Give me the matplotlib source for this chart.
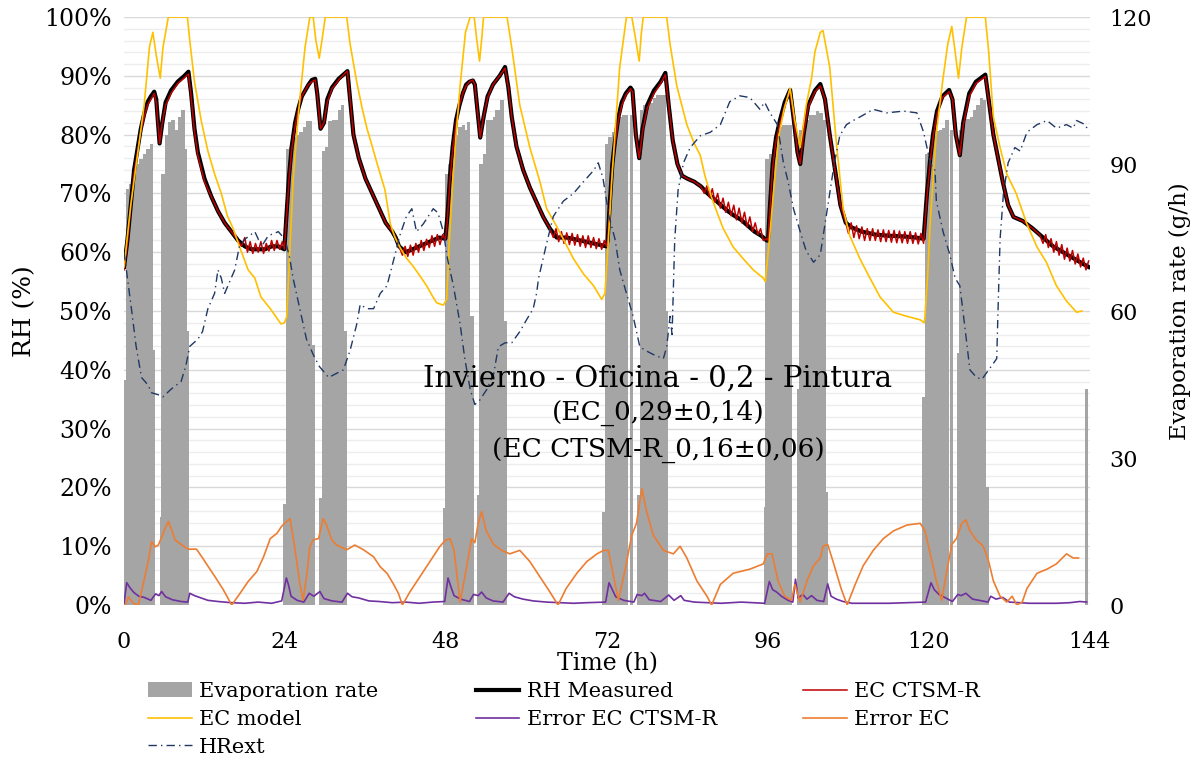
import numpy as np
import matplotlib
matplotlib.use("Agg")
import matplotlib.pyplot as plt

plt.rcParams['font.family'] = ['DejaVu Serif']

# ---------------- data (time in h, RH in %, evaporation in g/h) ----------------
rh_measured = [
    (0, 57.5), (0.5, 62), (1, 68), (1.5, 74), (2, 77.5), (2.5, 81), (3, 83.5), (3.5, 85.5), (4, 86.5), (4.5, 87.3),
    (4.8, 86), (5.3, 78.5), (5.7, 82), (6.2, 85.5), (7, 87.5), (8, 89), (9, 90), (9.6, 90.7), (10, 87), (10.5, 81),
    (11, 77), (12, 72.5), (13, 69.5), (14, 67), (15, 65), (16, 63.5), (17, 62), (18, 61), (19, 60.5), (20, 60.5),
    (21, 60.5), (22, 61), (23, 61), (23.9, 60.5),
    (24.2, 66), (24.6, 73), (25, 78), (25.5, 82), (26, 84.5), (26.5, 86.5), (27, 87.5), (27.5, 88.5), (28, 89.3),
    (28.5, 89.5), (28.8, 87), (29.3, 81), (29.8, 82), (30.3, 86), (31, 88), (32, 89.5), (33, 90.5), (33.3, 90.8),
    (33.7, 86), (34.2, 80), (35, 76), (36, 72.5), (37, 70), (38, 67.5), (39, 65), (40, 63.5), (40.5, 62.5), (41, 61),
    (42, 60), (43, 60.5), (44, 61), (45, 61.5), (46, 62), (47, 62.5), (47.9, 62.3),
    (48.2, 66), (48.6, 73), (49, 78), (49.5, 82.5), (50, 85), (50.5, 87), (51, 88.5), (51.5, 89), (52, 89.2),
    (52.3, 88.5), (52.7, 84), (53.1, 79.5), (53.6, 83), (54.2, 86.5), (55, 88.5), (56, 90), (56.8, 91.5), (57.3, 88),
    (57.8, 83), (58.5, 78), (59.5, 74), (60.5, 71), (61.5, 68.5), (62.5, 66), (63.5, 64), (64.5, 62.5), (66, 62.5),
    (68, 62), (70, 61.5), (71.9, 61),
    (72.1, 62), (72.4, 68), (72.8, 75), (73.2, 79), (73.7, 83), (74.2, 85.5), (74.8, 87), (75.5, 88), (75.8, 87.5),
    (76.3, 80), (76.8, 76), (77.3, 81), (78, 85), (79, 87.5), (80, 89), (80.7, 90.5), (81.2, 85), (81.8, 79),
    (82.5, 75), (83.2, 73), (84, 72.5), (85, 72), (86, 71.2), (87, 70), (88, 69), (89, 68), (90, 67), (91, 66.2),
    (92, 65.5), (93, 64.5), (94, 63.5), (95, 62.8), (95.8, 62),
    (96, 62), (96.3, 68), (96.7, 75), (97.2, 79.5), (97.8, 82.5), (98.5, 85.5), (99.3, 87.6), (99.8, 83), (100.4, 77),
    (100.8, 75), (101.3, 80), (102, 85), (103, 87.5), (103.8, 88.6), (104.5, 86), (105.2, 80), (106, 74), (106.8, 68),
    (107.6, 65), (108.5, 64.2), (110, 63.5), (112, 63), (114, 62.8), (116, 62.7), (118, 62.5), (119.2, 62.3),
    (119.7, 70), (120.2, 76), (120.6, 80), (121.2, 84), (122, 86.5), (123, 87.6), (123.5, 86), (124, 80), (124.6, 76.5),
    (125.1, 82), (126, 87), (127, 89), (128.4, 90.2), (128.9, 86), (129.6, 80), (130.3, 76), (131, 72), (131.8, 68),
    (132.6, 66), (134, 65.3), (135.5, 64), (137, 62.5), (138.5, 61), (140, 60), (141.5, 59), (143, 58), (143.8, 57.5),
]

ec_ctsm = [
    (0, 57), (0.5, 61.5), (1, 67.5), (1.5, 73.5), (2, 77), (2.5, 80.5), (3, 83), (3.5, 85), (4, 86), (4.5, 87),
    (4.8, 85.5), (5.3, 78.5), (5.7, 82), (6.2, 85), (7, 87), (8, 88.7), (9, 89.7), (9.6, 90.3), (10, 86.5), (10.5, 80.5),
    (11, 76.5), (12, 72), (13, 69.5), (14, 67), (15, 65), (16, 63.5), (17, 62), (17.5, 61), (18, 62.5), (18.4, 60),
    (18.8, 61.8), (19.2, 59.8), (19.6, 61.5), (20, 60), (20.4, 61.8), (20.8, 59.8), (21.2, 61.5), (21.6, 60.2),
    (22, 62), (22.4, 60.3), (22.8, 62), (23.2, 60.5), (23.6, 61.8), (23.9, 60.5),
    (24.2, 65.5), (24.6, 72.5), (25, 77.5), (25.5, 81.5), (26, 84.5), (26.5, 86.5), (27, 87.5), (27.5, 88.5), (28, 89),
    (28.5, 89.3), (28.8, 87), (29.3, 81), (29.8, 82), (30.3, 85.5), (31, 87.8), (32, 89.3), (33, 90.5), (33.3, 90.8),
    (33.7, 86), (34.2, 80), (35, 76), (36, 72.5), (37, 70), (38, 67.5), (39, 65), (40, 63.5), (40.5, 62.5), (41, 61),
    (41.5, 59.5), (41.9, 61), (42.3, 59.3), (42.7, 61.2), (43.1, 59.5), (43.5, 61.5), (43.9, 60), (44.3, 62),
    (44.7, 60.3), (45.1, 62.2), (45.5, 60.8), (45.9, 62.8), (46.3, 61), (46.7, 63), (47.1, 61.3), (47.5, 63), (47.9, 62),
    (48.2, 65.5), (48.6, 72.5), (49, 77.5), (49.5, 82), (50, 85), (50.5, 87), (51, 88.3), (51.5, 89), (52, 89.3),
    (52.3, 88.5), (52.7, 84), (53.1, 79.5), (53.6, 83), (54.2, 86.3), (55, 88.5), (56, 90), (56.8, 91.3), (57.3, 88),
    (57.8, 83), (58.5, 78), (59.5, 74), (60.5, 71), (61.5, 68.5), (62.5, 66), (63.5, 64), (64, 62.5), (64.4, 64),
    (64.8, 61.8), (65.2, 63.5), (65.6, 61.5), (66, 63.3), (66.4, 61.3), (66.8, 63.2), (67.2, 61.2), (67.6, 63),
    (68, 61), (68.4, 62.8), (68.8, 60.8), (69.2, 62.8), (69.6, 60.8), (70, 62.5), (70.4, 60.6), (70.8, 62.3),
    (71.2, 60.5), (71.6, 62), (71.9, 61),
    (72.1, 62), (72.4, 67.5), (72.8, 74.5), (73.2, 78.5), (73.7, 82.5), (74.2, 85), (74.8, 86.7), (75.5, 87.8),
    (75.8, 87.3), (76.3, 80), (76.8, 76), (77.3, 80.5), (78, 84.5), (79, 87), (80, 88.7), (80.7, 90.2), (81.2, 85),
    (81.8, 79), (82.5, 75), (83.2, 73), (84, 72.5), (85, 72), (86, 71.2), (86.5, 70), (86.9, 71.3), (87.3, 69.3),
    (87.7, 70.8), (88.1, 68.5), (88.5, 70), (88.9, 67.5), (89.3, 69.2), (89.7, 66.8), (90.1, 68.5), (90.5, 66.2),
    (90.9, 68), (91.3, 65.5), (91.7, 67.5), (92.1, 65), (92.5, 66.8), (92.9, 64.3), (93.3, 66), (93.7, 63.5),
    (94.1, 65), (94.5, 63), (94.9, 64), (95.3, 62), (95.8, 62.3),
    (96, 62), (96.3, 67.5), (96.7, 74.5), (97.2, 79), (97.8, 82), (98.5, 85), (99.3, 87.3), (99.8, 83), (100.4, 77),
    (100.8, 75), (101.3, 80), (102, 84.7), (103, 87.3), (103.8, 88.3), (104.5, 86), (105.2, 80), (106, 74),
    (106.8, 68), (107.6, 65), (108, 63.2), (108.4, 65), (108.8, 62.5), (109.2, 64.5), (109.6, 62.3), (110, 64.3),
    (110.4, 62), (110.8, 64), (111.2, 62), (111.6, 64), (112, 62), (112.4, 63.8), (112.8, 61.8), (113.2, 63.8),
    (113.6, 61.8), (114, 63.7), (114.4, 61.7), (114.8, 63.7), (115.2, 61.6), (115.6, 63.6), (116, 61.6),
    (116.4, 63.5), (116.8, 61.5), (117.2, 63.5), (117.6, 61.5), (118, 63.3), (118.4, 61.4), (118.8, 63.2),
    (119.2, 61.5),
    (119.7, 69.5), (120.2, 75.5), (120.6, 79.5), (121.2, 83.5), (122, 86.3), (123, 87.3), (123.5, 86), (124, 80),
    (124.6, 76.5), (125.1, 81.5), (126, 86.5), (127, 88.7), (128.4, 89.9), (128.9, 86), (129.6, 80), (130.3, 76),
    (131, 72), (131.8, 68), (132.6, 66), (134, 65.3), (135.5, 64), (136.5, 63), (137, 61.5), (137.4, 63), (137.8, 60.8),
    (138.2, 62.3), (138.6, 60), (139, 61.8), (139.4, 59.5), (139.8, 61.3), (140.2, 58.8), (140.6, 60.7), (141, 58.5),
    (141.4, 60.3), (141.8, 58), (142.2, 59.7), (142.6, 57.5), (143, 59), (143.4, 57), (143.8, 58.5),
]

ec_model = [
    (0, 57.5), (1, 68), (2, 76.5), (3, 85), (3.8, 95), (4.3, 97.4), (4.8, 93.5), (5.4, 89.6), (5.8, 94.8), (6.6, 100),
    (9.45, 100), (9.8, 96), (10.5, 89), (11.5, 82.4), (12.5, 77.2), (13.5, 73.3), (14.5, 70), (15.4, 66.2),
    (16.2, 64.2), (17.2, 61), (18.5, 57), (19.5, 55.6), (20.4, 52.4), (21.8, 50.4), (23.4, 47.8), (23.9, 48),
    (24.25, 49), (24.7, 60), (25.2, 72), (25.8, 81), (26.4, 88.3), (27, 95), (27.7, 100), (28.2, 100), (28.6, 96),
    (29.1, 93), (29.5, 96), (30, 100), (33.2, 100), (33.7, 95.4), (34.7, 88.9), (35.5, 84.5), (36.2, 81.1), (37, 78),
    (37.7, 75.2), (38.9, 70.6), (39.7, 64.8), (40.4, 62.5), (41.1, 60.9), (42.1, 59), (43.1, 57.6), (44.1, 56),
    (45.1, 54.3), (46, 52.5), (46.6, 51.4), (47.6, 51),
    (48.1, 52), (48.5, 62), (49, 72), (49.5, 80), (50.1, 88.3), (50.9, 97.4), (51.6, 100), (52.2, 100), (52.6, 96),
    (53, 92.5), (53.3, 96), (53.6, 100), (57.1, 100), (57.8, 94.8), (59, 85), (60.5, 77.8), (62, 72), (63, 67.4),
    (64.3, 64.8), (65.5, 62.2), (67, 58.9), (68.5, 56.3), (70, 54.3), (71.2, 52),
    (71.7, 53), (72.2, 62), (72.7, 72), (73.3, 82), (73.9, 91.5), (74.9, 100), (75.7, 100), (76.2, 96.7),
    (76.8, 92.5), (77.1, 97), (77.4, 100), (80.9, 100), (81.4, 95.4), (82.4, 88.3), (83.9, 81.7), (85, 78.5),
    (85.9, 76.5), (86.6, 73), (87.4, 70), (88, 68), (89.3, 64.1), (90.8, 60.9), (92.3, 58.9), (93.8, 57), (95.3, 55.6),
    (95.6, 55), (96.2, 62), (96.8, 70), (97.6, 79.8), (98.4, 84.3), (99.3, 87.9), (100, 82.4), (100.8, 77.8),
    (101.7, 85), (102.5, 89.6), (103, 94.1), (103.8, 97.4), (104.2, 97.7), (105.2, 91.5), (106.2, 78.5),
    (107.2, 67.4), (108.2, 62.8), (109.7, 58.9), (111.2, 55.6), (112.7, 52.4), (114.7, 49.8), (116.7, 49.1),
    (118.7, 48.5), (119.3, 48),
    (119.4, 49), (119.8, 56), (120.2, 65.4), (121.1, 80.4), (122.1, 89.6), (122.8, 95.4), (123.4, 98.4),
    (123.9, 94.1), (124.4, 89.6), (124.9, 94.8), (125.6, 100), (128.4, 100), (128.9, 94.1), (129.6, 83),
    (130.6, 77.8), (131.6, 73.3), (133, 70), (134.6, 64.8), (136.1, 60.9), (137.5, 58.3), (139, 54.3), (140.5, 51.7),
    (142, 49.8), (142.8, 50),
]

error_ec_ctsm = [
    (0, 0.3), (0.4, 3.8), (0.9, 2.9), (1.5, 2.1), (2.2, 1.5), (3, 1.3), (4, 0.8), (4.7, 1.9), (5.2, 1.6), (5.6, 2.3),
    (6.2, 1.4), (7.2, 0.9), (8.5, 0.6), (9.5, 0.5), (9.8, 2.0), (10.5, 1.6), (11.5, 1.2), (12.5, 0.8), (14, 0.6),
    (16, 0.4), (18, 0.3), (20, 0.5), (22, 0.3), (23.5, 0.7),
    (24.2, 4.6), (24.5, 3.5), (24.9, 1.5), (25.8, 0.8), (26.8, 0.5), (27.6, 2.0), (28.3, 1.5), (29.2, 2.3),
    (29.8, 1.1), (31, 0.7), (32.5, 0.5), (33.3, 2.0), (34, 1.4), (35, 1.2), (36.5, 0.7), (38, 0.6), (40, 0.4),
    (42, 0.5), (44, 0.3), (46, 0.5), (47.8, 0.6),
    (48.3, 4.6), (48.7, 3.2), (49.2, 1.6), (50.2, 1.0), (51.5, 0.6), (52.1, 1.8), (52.8, 1.6), (53.3, 2.2), (54, 1.2),
    (55, 0.7), (56.5, 0.5), (57.4, 2.0), (58.2, 1.4), (59.5, 1.0), (61, 0.7), (63, 0.5), (65, 0.4), (67, 0.3),
    (69, 0.4), (71.8, 0.5),
    (72.3, 3.8), (72.8, 2.6), (73.3, 1.4), (74.5, 0.8), (76, 0.5), (76.5, 1.8), (77.2, 1.6), (77.6, 2.0), (78.3, 0.9),
    (80, 0.6), (81.2, 1.7), (82, 0.8), (83, 1.6), (83.5, 0.8), (85, 0.5), (87, 0.4), (89, 0.3), (92, 0.5),
    (95.5, 0.3),
    (96.2, 4.0), (96.7, 2.6), (97.3, 2.2), (98, 1.5), (99, 0.8), (99.7, 0.5), (100.1, 4.4), (100.5, 1.2),
    (101.2, 1.8), (101.8, 1.0), (102.5, 1.6), (103.3, 0.8), (104.3, 0.6), (104.9, 3.6), (105.4, 1.5), (106.2, 1.0),
    (107.2, 0.6), (108.5, 0.3), (111, 0.3), (114, 0.3), (117, 0.4), (119.5, 0.5),
    (120.3, 3.8), (120.8, 2.6), (121.5, 1.8), (122.5, 1.2), (123.5, 0.6), (124.3, 1.8), (124.8, 1.6), (125.5, 2.0),
    (126.5, 1.0), (127.5, 0.8), (128.8, 0.5), (129.2, 1.5), (130, 1.0), (131, 1.3), (132, 0.5), (133.5, 0.4),
    (135, 0.3), (137, 0.3), (139, 0.3), (141, 0.4), (142.5, 0.6), (143.5, 0.5),
]

error_ec = [
    (0.2, 0), (0.64, 1.4), (1.39, 0.3), (2.14, 0), (2.88, 3.7), (3.63, 7.6), (4.12, 10.8), (4.62, 9.9), (5.12, 10.2),
    (5.62, 11.6), (6.11, 13), (6.61, 14.2), (7.1, 12.8), (7.6, 11.1), (8.6, 10.2), (9.59, 9.5), (10.8, 9.5),
    (11.6, 8.2), (12.57, 6.5), (13.57, 4.8), (14.8, 2.6), (16.05, 0), (17.3, 2), (18.5, 4), (19.8, 5.7), (20.8, 8.2),
    (21.8, 11.3), (22.8, 12.2), (23.5, 13.4), (24.25, 14.2), (24.75, 14.7), (25.5, 9.4), (26.2, 3.7), (26.7, 0.8),
    (27.2, 4.8), (27.7, 9.9), (28.2, 11.1), (29, 11.3), (29.7, 14.7), (30.2, 13.6), (30.96, 11.1), (31.7, 10.2),
    (33.2, 9.4), (34.4, 10.2), (35.7, 9.4), (37.2, 8.2), (38.2, 6.5), (39.2, 5.4), (40.1, 3.7), (40.9, 2),
    (41.5, 0), (42.6, 2.2), (44.1, 4.8), (45.6, 7.4), (47.1, 10), (47.9, 11), (48.6, 11.3),
    (49.2, 9.3), (50.1, 0.5), (51, 6), (51.8, 11.3), (52.3, 10.6), (52.8, 13.9), (53.3, 15.9), (54, 12.6),
    (55.1, 10.3), (56.3, 9.3), (57.5, 8.7), (59, 9.3), (60.5, 7.4), (62, 4.8), (63.5, 2.2), (64.7, 0), (65.9, 2.8),
    (67.5, 5.4), (69, 7.4), (70.5, 8.7), (71.5, 9.3), (72.2, 9.3), (73, 4.8), (73.7, 0.8), (74.7, 6), (75.7, 11.9),
    (76.4, 13.9), (77.2, 19.8), (77.9, 15.9), (78.9, 11.9), (80.4, 9.3), (81.9, 8.7), (82.9, 10), (83.9, 8),
    (85.4, 4.1), (86.9, 1.5), (87.6, 0), (88.9, 3.5), (90.8, 5.4), (93.3, 6.1), (95.3, 7), (95.9, 8.7),
    (96.6, 8.7), (97.5, 4.1), (98.5, 1.5), (99.5, 0.8), (100, 3.5), (100.8, 0.5), (101.8, 4.1), (102.8, 6.7),
    (103.8, 8), (104.2, 10), (104.9, 10.3), (105.7, 7.4), (106.9, 2.8), (107.8, 0), (109, 3.5), (110.2, 6.7),
    (111.7, 9.3), (113.2, 11.3), (114.7, 12.6), (116.7, 13.6), (118.7, 13.9), (119.4, 12.6), (120.2, 8.7),
    (121.1, 4.1), (121.9, 0.8), (122.6, 5.4), (123.4, 10.3), (124.1, 11.3), (124.9, 13.9), (125.5, 14.5),
    (126.1, 12.6), (127.1, 11), (128.1, 10), (128.9, 7.4), (129.6, 4.1), (130.6, 1.5), (131.6, 0.5), (132.4, 1.5),
    (133.1, 0), (133.9, 0.5), (134.6, 2.8), (136.1, 5.4), (137.6, 6.1), (139, 7), (140.5, 8.7), (141.5, 8),
    (142.3, 8),
]

hr_ext = [
    (0, 60), (0.5, 55.6), (1.1, 50.4), (1.8, 44), (2.6, 38.7), (3.6, 37.4), (4.1, 36.1), (5, 35.8), (5.8, 35.4),
    (7, 36.7), (8.5, 38), (9.2, 40.6), (9.8, 44), (11, 45.2), (11.7, 46.5), (12.5, 50.4), (13.5, 53), (14, 57),
    (14.5, 55.6), (15, 53), (16.5, 57), (17.2, 61), (18, 62.2), (19.5, 63.5), (20.5, 61), (21.5, 62.8), (23, 63.5),
    (24, 62.2), (24.7, 59),
    (25.2, 55.6), (26.2, 50.4), (27.2, 45.2), (28.2, 42.6), (29.1, 40.6), (30.5, 38.7), (31.5, 39.3), (32.7, 40),
    (33.7, 43.3), (34.7, 47.8), (35.2, 51.1), (36.2, 50.4), (37.2, 50.4), (38.2, 53), (39.2, 54.3), (40.4, 59.6),
    (41.1, 62.8), (42.1, 66.1), (42.9, 67.4), (43.6, 63.5), (44.6, 64.8), (46.1, 67.4), (46.8, 66.7), (47.6, 63.5),
    (48.2, 59),
    (49.1, 54.3), (50.1, 47.8), (50.8, 41.9), (51.6, 36.7), (52.3, 34.1), (53, 34.8), (54.1, 36.7), (55.1, 39.3),
    (55.8, 43.9), (56.8, 44.6), (57.8, 44.6), (59, 46.5), (60, 48.5), (61, 50.4), (61.5, 53), (61.8, 55.6),
    (63, 61.5), (64, 66.1), (65.5, 68.7), (67, 70), (68.5, 72), (70, 73.9), (70.7, 75.2), (71.4, 72.6),
    (72.3, 66.1), (73.2, 62.2),
    (73.9, 57), (74.9, 53), (75.9, 49.1), (76.9, 43.9), (77.9, 43.2), (78.9, 42.6), (80.4, 41.9), (80.9, 43.9),
    (81.4, 49.1), (81.7, 46), (82.1, 62.2), (82.6, 70.6), (83.4, 75.2), (84.4, 77.8), (85.9, 79.8), (87.4, 80.4),
    (88.9, 81.7), (90.3, 85.6), (91.8, 86.6), (93.3, 86.3), (94.8, 84.3), (95.5, 85.5), (96.3, 83.7),
    (97.4, 81.7), (98.3, 75.2), (99, 72), (99.8, 67.4), (100.8, 63.5), (101.7, 60.2), (102.8, 58.3), (103.8, 59.6),
    (104.5, 64.8), (105.2, 70), (105.9, 75.2), (106.7, 79.8), (107.7, 81.7), (108.7, 82.4), (109.7, 83),
    (111.7, 84.3), (113.7, 83.7), (116.2, 84), (118.2, 83.7), (119.2, 80.4), (120.2, 75.2),
    (120.9, 73.9), (121.1, 68.7), (122.1, 63.5), (123.1, 59.6), (123.9, 55.6), (124.6, 54.3), (125.3, 47.8),
    (126.1, 40), (127.1, 38.7), (127.9, 38.4), (128.9, 40), (130.1, 41.9), (130.3, 50.4), (130.6, 62.2), (131.1, 70),
    (131.8, 75.2), (132.8, 77.8), (133.6, 77.2), (134.6, 80.4), (136.1, 81.7), (137.6, 82.4), (139, 81.1),
    (140.5, 81.7), (141.5, 81.1), (142, 82.4), (143.3, 81.7), (143.8, 80.5),
]

# evaporation rate bars: (start time, g/h), each bar half an hour wide
evaporation = [
    (-0.2, 46), (0.3, 85), (0.8, 86), (1.3, 88), (1.8, 90), (2.3, 91), (2.8, 92), (3.3, 93), (3.8, 94), (4.15, 52),
    (5.3, 18), (5.55, 88), (6.05, 96), (6.55, 98.5), (7.05, 99), (7.55, 97), (8.05, 99.5), (8.55, 101), (8.95, 93),
    (9.25, 56),
    (23.65, 20.6), (24.15, 93), (24.65, 93.5), (25.15, 95.5), (25.65, 96), (26.15, 96.5), (26.65, 97.5),
    (27.15, 98.8), (27.45, 98.8), (27.95, 53),
    (29.1, 21.8), (29.45, 92.6), (29.95, 93.5), (30.45, 98.8), (30.95, 99), (31.45, 99), (31.95, 101), (32.35, 102),
    (32.75, 56),
    (47.55, 19.8), (47.85, 88), (48.35, 90), (48.85, 92), (49.35, 96), (49.85, 97.5), (50.35, 98), (50.85, 97),
    (51.15, 98.5), (51.65, 59),
    (52.6, 22.5), (52.95, 90), (53.45, 92), (53.95, 99), (54.45, 99), (54.95, 99.5), (55.3, 101), (55.8, 101),
    (56.1, 103), (56.55, 58),
    (71.3, 19), (71.7, 94), (72.2, 95.5), (72.7, 96.5), (73.2, 98), (73.7, 99.5), (74.2, 100), (74.7, 100),
    (75.4, 100),
    (76.5, 22.5), (76.85, 101), (77.35, 102), (77.85, 102), (78.35, 102.5), (78.85, 103.5), (79.35, 104),
    (79.85, 104), (80.35, 104), (80.55, 60),
    (95.4, 20), (95.6, 91), (96.1, 92), (96.6, 93), (97.1, 96), (97.6, 97.5), (98.1, 98), (98.6, 98), (99.1, 98),
    (100.3, 44), (100.65, 97), (101.15, 98), (101.65, 99), (102.15, 100), (102.65, 100), (103.15, 100.8),
    (103.65, 100.5), (104.15, 99), (104.5, 23),
    (119.0, 42.5), (119.45, 92), (119.95, 93.5), (120.45, 96.5), (120.95, 96.8), (121.45, 97), (121.95, 97.3),
    (122.45, 99), (123.1, 97),
    (124.2, 51.5), (124.55, 97), (125.05, 98.5), (125.55, 99.2), (126.05, 99.5), (126.55, 101), (127.05, 102),
    (127.55, 103.5), (128.05, 103), (128.45, 24),
    (143.2, 44),
]

title_lines = ["Invierno - Oficina - 0,2 - Pintura", "(EC_0,29±0,14)", "(EC CTSM-R_0,16±0,06)"]


def split(pairs):
    a = np.array(pairs, dtype=float)
    return a[:, 0], a[:, 1]


fig = plt.figure(figsize=(11.95, 7.6), dpi=100)
ax_ev = fig.add_axes([0.1038, 0.2039, 0.8083, 0.7737])
ax = ax_ev.twinx()

# bars (right axis) sit underneath the RH lines
ev_t, ev_v = split(evaporation)
bars = ax_ev.bar(ev_t, ev_v, width=0.5, align='edge', color='#A5A5A5', linewidth=0,
                 antialiased=False, label='Evaporation rate', zorder=2)

# gridlines every 2 % (major every 10 %), drawn on the bar axes so they stay behind
for p in range(0, 101, 2):
    major = p % 10 == 0
    ax_ev.axhline(p * 1.2, color='#D9D9D9' if major else '#EDEDED', lw=1.0, zorder=0)

ax_ev.set_ylim(0, 120)
ax_ev.set_xlim(0, 144)
ax_ev.set_yticks([0, 30, 60, 90, 120])
ax_ev.yaxis.tick_right()
ax_ev.yaxis.set_label_position('right')
ax_ev.set_ylabel('Evaporation rate (g/h)', fontsize=16.5, labelpad=12)
ax_ev.set_xticks(np.arange(0, 145, 24))
ax_ev.set_xlabel('Time (h)', fontsize=17, labelpad=-1)

ax.yaxis.tick_left()
ax.yaxis.set_label_position('left')
ax.set_ylim(0, 100)
ax.set_xlim(0, 144)
ax.set_yticks(np.arange(0, 101, 10))
ax.set_yticklabels([f"{v}%" for v in range(0, 101, 10)])
ax.set_ylabel('RH (%)', fontsize=18, labelpad=6)

t, v = split(rh_measured)
l_meas, = ax.plot(t, v, color='black', lw=3.0, solid_joinstyle='round', label='RH Measured')
t, v = split(ec_ctsm)
l_ctsm, = ax.plot(t, v, color='#C00000', lw=1.1, label='EC CTSM-R')
t, v = split(ec_model)
l_mod, = ax.plot(t, v, color='#FFC000', lw=1.2, label='EC model')
t, v = split(error_ec_ctsm)
l_errc, = ax.plot(t, v, color='#7030A0', lw=1.2, label='Error EC CTSM-R')
t, v = split(error_ec)
l_err, = ax.plot(t, v, color='#ED7D31', lw=1.2, label='Error EC')
t, v = split(hr_ext)
l_hr, = ax.plot(t, v, color='#203864', lw=1.0, dashes=[6, 3, 1, 3], label='HRext')

for a in (ax, ax_ev):
    for s in a.spines.values():
        s.set_visible(False)
    a.tick_params(length=0)
ax_ev.tick_params(axis='x', pad=19, labelsize=16)
ax_ev.tick_params(axis='y', pad=14, labelsize=16)
ax.tick_params(axis='y', pad=9, labelsize=17)

ax.text(79.6, 37.1, title_lines[0], ha='center', va='baseline', fontsize=21)
ax.text(79.6, 31.5, title_lines[1], ha='center', va='baseline', fontsize=19)
ax.text(79.6, 25.2, title_lines[2], ha='center', va='baseline', fontsize=19)

# legend laid out as three columns, like the original
legend_cols = [([bars, l_mod, l_hr], 0.117), ([l_meas, l_errc], 0.391), ([l_ctsm, l_err], 0.665)]
for handles, x0 in legend_cols:
    fig.legend(handles, [h.get_label() for h in handles], loc='upper left', bbox_to_anchor=(x0, 0.1135),
               frameon=False, fontsize=15, handlelength=2.1, handletextpad=0.35, labelspacing=0.42,
               borderaxespad=0)

fig.savefig('out.png', dpi=100)
